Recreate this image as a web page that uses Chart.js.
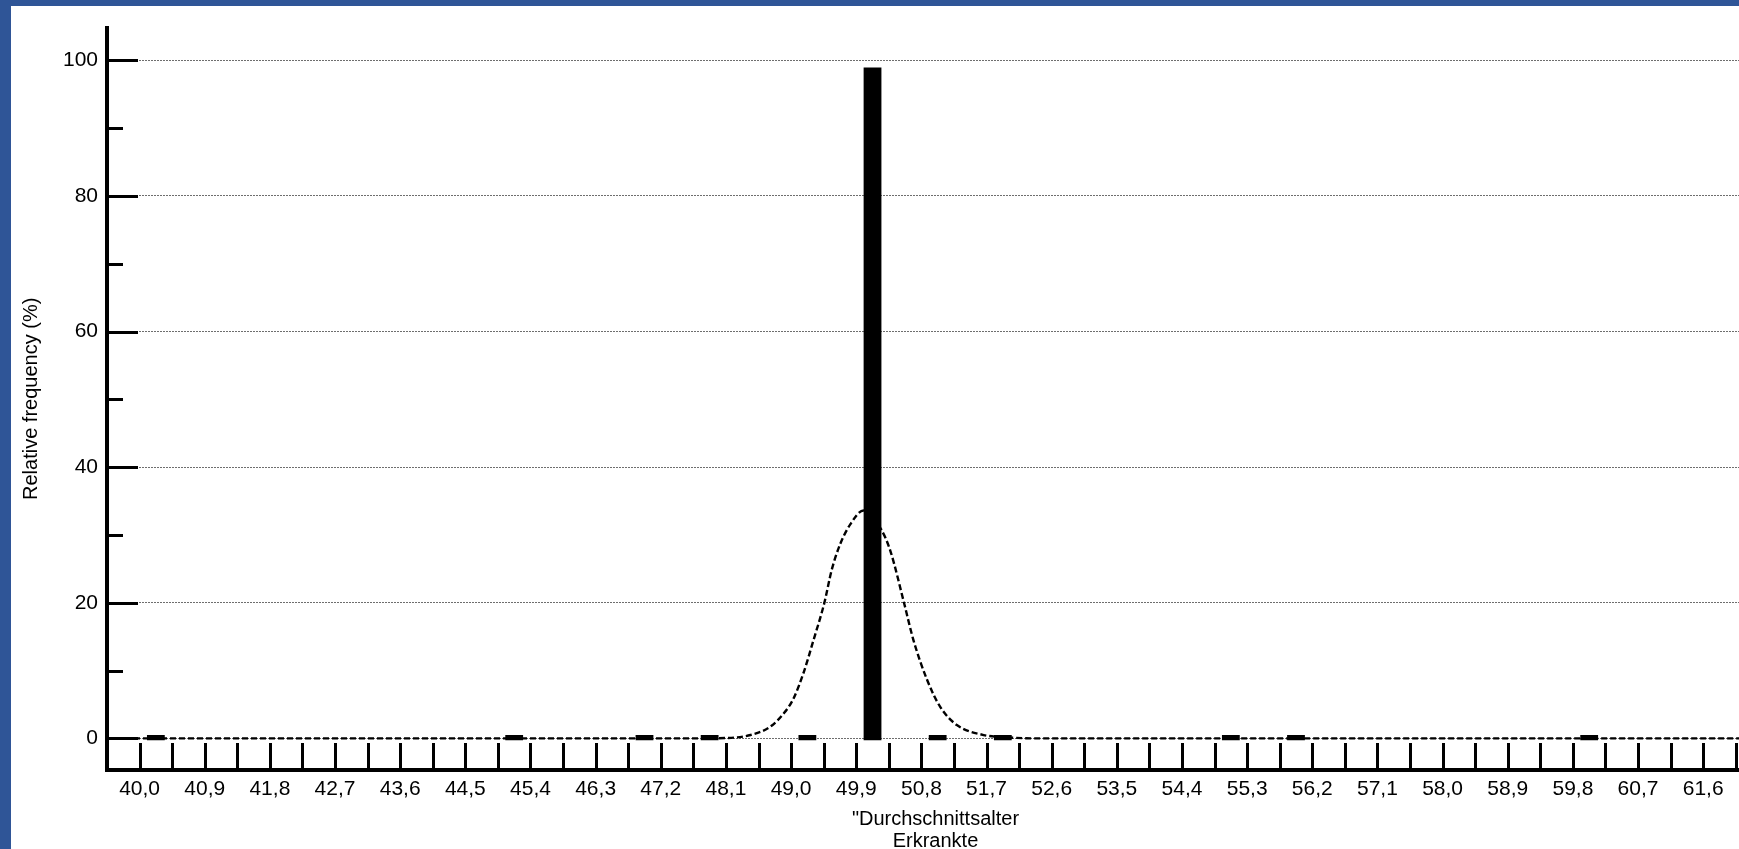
<!DOCTYPE html>
<html>
<head>
<meta charset="utf-8">
<script src="https://cdn.jsdelivr.net/npm/chart.js@4.4.1/dist/chart.umd.min.js"></script>
<style>
html,body{margin:0;padding:0;width:1739px;height:849px;overflow:hidden;background:#2F5597;}
#frame{position:absolute;left:11px;top:6px;width:1728px;height:843px;background:#fff;overflow:hidden;}
#c{position:absolute;left:0;top:0;}
</style>
</head>
<body>
<div id="frame"><canvas id="c" width="1753" height="846"></canvas></div>
<script>
// ---- data ----
const xTickLabels = ['40,0','40,9','41,8','42,7','43,6','44,5','45,4','46,3','47,2','48,1','49,0','49,9',
  '50,8','51,7','52,6','53,5','54,4','55,3','56,2','57,1','58,0','58,9','59,8','60,7','61,6'];
const yTickLabels = ['0','20','40','60','80','100'];
const binWidth = 0.45;
const binCenters = [40.225, 45.175, 46.975, 47.875, 49.225, 50.125, 51.025, 51.925, 55.075, 55.975, 60.025];
const relFrequency = [0.14, 0.14, 0.14, 0.14, 0.14, 98.6, 0.14, 0.14, 0.14, 0.14, 0.14];
const curveX = [39.55, 47.6, 48.1, 48.44, 48.71, 48.9, 49.03, 49.17, 49.31, 49.46, 49.56, 49.68, 49.82, 50.0,
  50.24, 50.37, 50.56, 50.69, 50.88, 51.06, 51.29, 51.66, 51.9, 52.4, 62.44];
const curveY = [0, 0, 0.05, 0.5, 1.7, 3.7, 5.8, 9.6, 14.5, 20.0, 24.8, 28.7, 31.6, 33.6,
  30.9, 27.7, 20.0, 14.5, 8.6, 4.65, 1.96, 0.49, 0.2, 0, 0];

const xLabelValues = xTickLabels.map(s => parseFloat(s.replace(',', '.')));
const yLabelValues = yTickLabels.map(s => parseFloat(s));
const xEdges = [];
xLabelValues.forEach(v => { xEdges.push(v, v + binWidth); });
const yMinor = yLabelValues.slice(1).map((v, i) => (v + yLabelValues[i]) / 2);

const FONT = "'Liberation Sans', Arial, sans-serif";

const tickMarks = {
  id: 'tickMarks',
  afterDatasetsDraw(chart) {
    const {ctx, chartArea: a, scales: {x, y}} = chart;
    ctx.save();
    ctx.strokeStyle = '#000';
    ctx.lineWidth = 3;
    ctx.beginPath();
    yLabelValues.forEach(v => {
      const p = Math.round(y.getPixelForValue(v)) + 0.5;
      ctx.moveTo(a.left, p); ctx.lineTo(a.left + 31, p);
    });
    yMinor.forEach(v => {
      const p = Math.round(y.getPixelForValue(v)) + 0.5;
      ctx.moveTo(a.left, p); ctx.lineTo(a.left + 16, p);
    });
    xEdges.forEach(v => {
      const p = Math.round(x.getPixelForValue(v)) + 0.5;
      ctx.moveTo(p, a.bottom); ctx.lineTo(p, a.bottom - 27);
    });
    ctx.stroke();
    ctx.restore();
  }
};

new Chart(document.getElementById('c'), {
  type: 'bar',
  data: {
    datasets: [
      {
        type: 'bar',
        data: binCenters.map((c, i) => ({x: c, y: relFrequency[i]})),
        backgroundColor: '#000',
        borderWidth: 0,
        barThickness: 13,
        inflateAmount: 2.4,
        order: 0
      },
      {
        type: 'line',
        data: curveX.map((c, i) => ({x: c, y: curveY[i]})),
        borderColor: '#000',
        borderWidth: 2.4,
        borderDash: [6, 3],
        pointRadius: 0,
        fill: false,
        cubicInterpolationMode: 'monotone',
        order: 1
      }
    ]
  },
  plugins: [tickMarks],
  options: {
    responsive: false,
    animation: false,
    events: [],
    layout: {padding: {top: 20, right: 0, bottom: 0, left: 0}},
    plugins: {legend: {display: false}, tooltip: {enabled: false}},
    scales: {
      x: {
        type: 'linear',
        position: 'bottom',
        min: 39.55,
        max: 62.44,
        offset: false,
        grid: {display: false, drawTicks: false, offset: false},
        border: {display: true, width: 4, color: '#000'},
        afterBuildTicks: s => { s.ticks = xLabelValues.map(v => ({value: v})); },
        afterFit: s => { s.height = 82; },
        ticks: {
          autoSkip: false, maxRotation: 0, minRotation: 0, padding: 6.5,
          color: '#000', font: {family: FONT, size: 21},
          callback: (v, i) => xTickLabels[i]
        },
        title: {
          display: true,
          text: ['"Durchschnittsalter', 'Erkrankte'],
          color: '#000',
          font: {family: FONT, size: 20, lineHeight: 1.08},
          padding: {top: 0, bottom: 0}
        }
      },
      y: {
        type: 'linear',
        position: 'left',
        min: -4.665,
        max: 104.83,
        grid: {display: true, drawTicks: false, drawOnChartArea: true, color: '#6e6e6e', lineWidth: 1},
        border: {display: true, width: 4, color: '#000', dash: [2, 1]},
        afterBuildTicks: s => { s.ticks = yLabelValues.map(v => ({value: v})); },
        afterFit: s => { s.width = 96; },
        ticks: {
          padding: 9, color: '#000', font: {family: FONT, size: 21},
          callback: (v, i) => yTickLabels[i]
        },
        title: {
          display: true,
          text: 'Relative frequency (%)',
          color: '#000',
          font: {family: FONT, size: 20},
          padding: {top: 8, bottom: 0}
        }
      }
    }
  }
});
</script>
</body>
</html>
